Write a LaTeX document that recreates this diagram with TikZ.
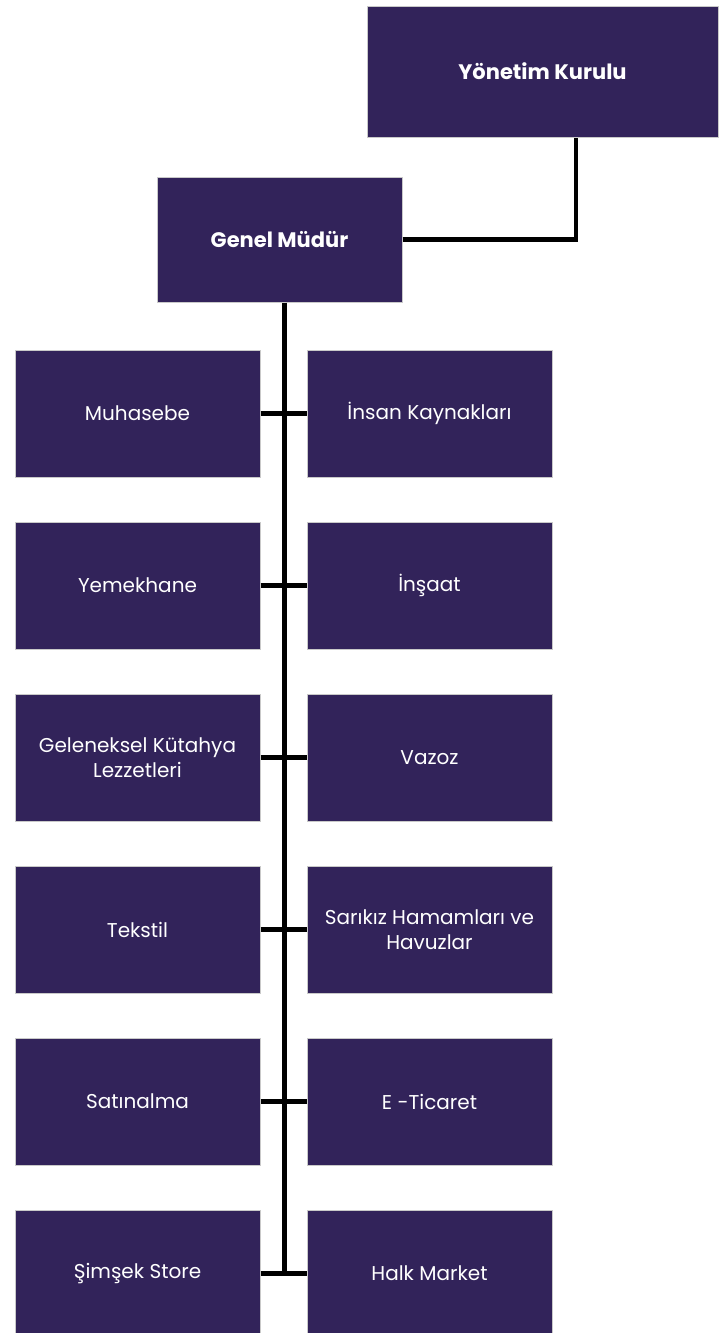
\documentclass[tikz,border=0pt]{standalone}
\usepackage{fontspec}
\setmainfont{Poppins}
\definecolor{boxfill}{HTML}{32235A}
\definecolor{boxedge}{HTML}{C9C9C9}
\begin{document}
\begin{tikzpicture}[x=1pt,y=-1pt,
  orgbox/.style={draw=boxedge,line width=1pt,fill=boxfill,text=white,
    minimum width=245pt,minimum height=127pt,inner sep=0pt,align=center,
    font=\fontsize{20}{25}\selectfont},
  headbox/.style={orgbox,font=\fontsize{21}{25}\selectfont\bfseries},
  link/.style={line width=4.5pt,draw=black}]
\useasboundingbox (0,0) rectangle (725,1333);
\node[headbox,minimum width=351pt,minimum height=131pt] (yk) at (542.5,71.5) {Yönetim Kurulu};
\node[headbox,minimum height=125pt] (gm) at (279.5,239.5) {Genel Müdür};
\node[orgbox] (l1) at (137.5,413.5) {Muhasebe};
\node[orgbox] (r1) at (429.5,413.5) {İnsan Kaynakları};
\node[orgbox] (l2) at (137.5,585.5) {Yemekhane};
\node[orgbox] (r2) at (429.5,585.5) {İnşaat};
\node[orgbox] (l3) at (137.5,757.5) {Geleneksel Kütahya\\Lezzetleri};
\node[orgbox] (r3) at (429.5,757.5) {Vazoz};
\node[orgbox] (l4) at (137.5,929.5) {Tekstil};
\node[orgbox] (r4) at (429.5,929.5) {Sarıkız Hamamları ve\\Havuzlar};
\node[orgbox] (l5) at (137.5,1101.5) {Satınalma};
\node[orgbox] (r5) at (429.5,1101.5) {E -Ticaret};
\node[orgbox] (l6) at (137.5,1273.5) {Şimşek Store};
\node[orgbox] (r6) at (429.5,1273.5) {Halk Market};
\coordinate (spinetop) at (284.5,302);
\coordinate (spinebot) at (284.5,1273.5);
\draw[link] (gm.east) -| (yk.south -| 576,0);
\draw[link] (gm.south -| spinetop) -- (spinebot);
\foreach \i in {1,...,6}{
  \draw[link] (l\i.east) -- (r\i.west);
}
\end{tikzpicture}
\end{document}
